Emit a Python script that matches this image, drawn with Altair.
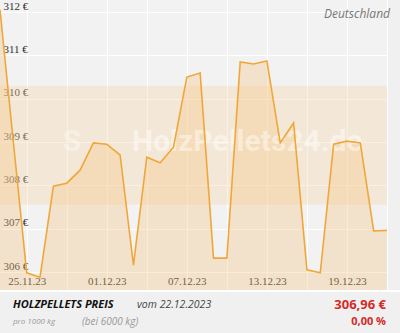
import altair as alt
import pandas as pd

# ---- data ----
dates = [d.strftime("%Y-%m-%d") for d in pd.date_range("2023-11-23", "2023-12-22")]
prices = [312.05, 309.00, 305.98, 305.88, 307.98, 308.05, 308.35, 308.98, 308.95, 308.70,
          306.16, 308.65, 308.52, 308.88, 310.50, 310.59, 306.32, 306.32, 310.85, 310.80,
          310.87, 308.98, 309.44, 306.05, 305.98, 308.95, 309.02, 308.98, 306.95, 306.96]
y_ticks = [306, 307, 308, 309, 310, 311, 312]
grid_days = [(2023, 11, 25), (2023, 11, 28), (2023, 12, 1), (2023, 12, 4), (2023, 12, 7),
             (2023, 12, 10), (2023, 12, 13), (2023, 12, 16), (2023, 12, 19), (2023, 12, 22)]
tick_labels = ["25.11.23", "01.12.23", "07.12.23", "13.12.23", "19.12.23"]
band = {"lo": [307.55], "hi": [310.3]}

df = pd.DataFrame({"date": dates, "price": prices})

W, H = 387, 290
LINE = "#f0a73a"

def dt(y, m, d):
    return alt.DateTime(year=y, month=m, date=d, utc=True)

x_scale = alt.Scale(type="utc", domain=[dt(2023, 11, 23), dt(2023, 12, 22)], nice=False)
y_scale = alt.Scale(domain=[305.585, 312.277], nice=False, zero=False)

lab_list = "[" + ",".join("'%s'" % l for l in tick_labels) + "]"
x_axis = alt.Axis(
    values=[dt(*g) for g in grid_days], grid=True, gridColor="white", gridWidth=1,
    domain=False, ticks=False, tickSize=0, labelPadding=-9, labelBaseline="middle",
    labelFont="Liberation Serif", labelFontSize=11, labelColor="#333", labelFlush=False,
    labelOverlap=False, title=None,
    labelExpr="indexof(" + lab_list + ", utcFormat(datum.value, '%d.%m.%y')) >= 0 ? utcFormat(datum.value, '%d.%m.%y') : ''",
)
y_axis = alt.Axis(
    values=y_ticks, grid=True, gridColor="white", gridWidth=1, domain=False, ticks=False,
    tickSize=0, labelPadding=-3, labelAlign="left", labelBaseline="middle", labelOffset=-6,
    labelFont="Liberation Serif", labelFontSize=11, labelColor="#333", title=None,
    labelExpr="datum.value + ' €'",
)

band_layer = alt.Chart(pd.DataFrame(band)).mark_rect(color="#f7d6a8", opacity=0.35).encode(
    y=alt.Y("hi:Q", scale=y_scale, axis=y_axis), y2="lo:Q",
    x=alt.value(0), x2=alt.value(W),
)

area = alt.Chart(df).mark_area(color="#f5c27a", opacity=0.32, clip=True).encode(
    x=alt.X("date:T", scale=x_scale, axis=x_axis),
    y=alt.Y("price:Q", scale=y_scale, axis=y_axis),
)
line = alt.Chart(df).mark_line(color=LINE, strokeWidth=1.6, clip=True).encode(
    x=alt.X("date:T", scale=x_scale, axis=x_axis),
    y=alt.Y("price:Q", scale=y_scale, axis=y_axis),
)

def txt(s, x, y, **kw):
    return alt.Chart(pd.DataFrame({"t": [s]})).mark_text(**kw).encode(
        text="t:N", x=alt.value(x), y=alt.value(y))

watermark = txt("HolzPellets24.de", 132, 142, align="left", baseline="middle",
                font="Roboto", fontSize=30, fontWeight="bold", color="white", opacity=0.45)
logo = txt("S", 72, 142, align="center", baseline="middle",
           font="Roboto", fontSize=30, fontWeight="bold", color="white", opacity=0.35)

sep = alt.Chart(pd.DataFrame({"a": [0]})).mark_rule(color="white", strokeWidth=2).encode(
    x=alt.value(0), x2=alt.value(400), y=alt.value(291))

land = txt("Deutschland", 390, 14, align="right", baseline="middle", font="Open Sans",
           fontSize=12, fontStyle="italic", color="#777")
t1 = txt("HOLZPELLETS PREIS", 13, 305, align="left", baseline="middle", font="Open Sans",
         fontSize=11, fontStyle="italic", fontWeight="bold", color="#111")
t2 = txt("vom 22.12.2023", 137, 305, align="left", baseline="middle", font="Open Sans",
         fontSize=10.5, fontStyle="italic", color="#444")
t3 = txt("pro 1000 kg", 13, 322, align="left", baseline="middle", font="Open Sans",
         fontSize=8, fontStyle="italic", color="#999")
t4 = txt("(bei 6000 kg)", 82, 322, align="left", baseline="middle", font="Open Sans",
         fontSize=10, fontStyle="italic", color="#999")
t5 = txt("306,96 €", 386, 305, align="right", baseline="middle", font="Open Sans",
         fontSize=13, fontWeight="bold", color="#d42a2a")
t6 = txt("0,00 %", 386, 322, align="right", baseline="middle", font="Open Sans",
         fontSize=11, fontWeight="bold", color="#d42a2a")

chart = alt.layer(band_layer, area, watermark, logo, line, sep, land, t1, t2, t3, t4, t5, t6).properties(
    width=W, height=H, background="#f0f0f0",
    autosize=alt.AutoSizeParams(type="none"),
    padding={"left": 0, "top": 0, "right": 13, "bottom": 43},
).configure_view(fill="#f2f2f2", strokeWidth=0)

chart.save("out.html", embed_options={"renderer": "svg", "actions": False})
